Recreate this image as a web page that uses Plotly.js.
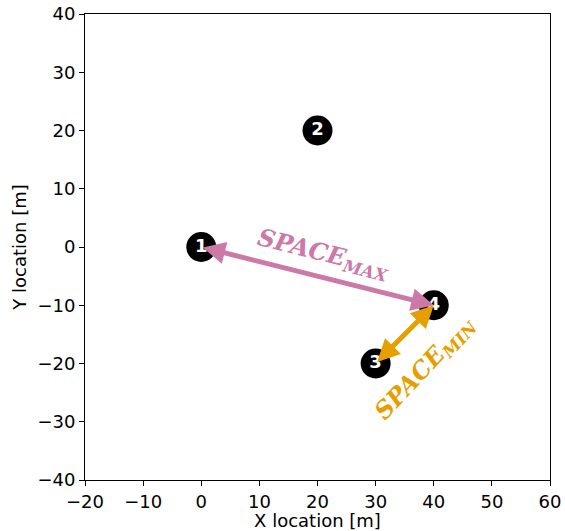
<!DOCTYPE html>
<html>
<head>
<meta charset="utf-8">
<script src="https://cdn.plot.ly/plotly-3.0.1.min.js"></script>
<style>html,body{margin:0;padding:0;background:#fff;}#plot{width:565px;height:531px;}</style>
</head>
<body>
<div id="plot"></div>
<script>
// Node positions (metres) and their labels
const nodeX = [0, 20, 30, 40];
const nodeY = [0, 20, -20, -10];
const nodeLabels = ['1', '2', '3', '4'];

// Spacing links: [from node index, to node index]
const maxLink = [0, 3];
const minLink = [2, 3];

const xTicks = [-20, -10, 0, 10, 20, 30, 40, 50, 60];
const yTicks = [-40, -30, -20, -10, 0, 10, 20, 30, 40];

const PINK = '#CC79A7';
const ORANGE = '#E69F00';
const labelFont = 'DejaVu Serif, Liberation Serif, serif';

const nodes = {
  x: nodeX, y: nodeY, text: nodeLabels,
  mode: 'markers+text',
  type: 'scatter',
  marker: {size: 30, color: '#000'},
  textposition: 'middle center',
  textfont: {family: 'DejaVu Sans', size: 18, color: '#fff'},
  texttemplate: '<b>%{text}</b>',
  hoverinfo: 'skip',
  showlegend: false
};

function link(pair, color) {
  const a = pair[0], b = pair[1];
  return {
    x: nodeX[b], y: nodeY[b], ax: nodeX[a], ay: nodeY[a],
    xref: 'x', yref: 'y', axref: 'x', ayref: 'y',
    showarrow: true, text: '',
    arrowhead: 2, startarrowhead: 2, arrowside: 'end+start',
    arrowsize: 0.9, startarrowsize: 0.9, arrowwidth: 5,
    arrowcolor: color, standoff: 0, startstandoff: 0
  };
}

function label(pair, txt, color, angle, dxData, dyData) {
  const a = pair[0], b = pair[1];
  return {
    x: (nodeX[a] + nodeX[b]) / 2 + dxData,
    y: (nodeY[a] + nodeY[b]) / 2 + dyData,
    xref: 'x', yref: 'y', showarrow: false,
    text: '<b><i>' + txt + '</i></b>',
    textangle: angle,
    font: {family: labelFont, size: 24, color: color}
  };
}

const layout = {
  width: 565, height: 531,
  margin: {l: 85, r: 15, t: 14, b: 51},
  paper_bgcolor: '#fff', plot_bgcolor: '#fff',
  font: {family: 'DejaVu Sans', size: 18, color: '#000'},
  xaxis: {
    range: [-20, 60], tickvals: xTicks, showgrid: false, zeroline: false,
    showline: true, mirror: true, linecolor: '#000', linewidth: 1,
    ticks: 'outside', ticklen: 5, tickcolor: '#000',
    title: {text: 'X location [m]', standoff: 1, font: {size: 18}}
  },
  yaxis: {
    range: [-40, 40], tickvals: yTicks, showgrid: false, zeroline: false,
    showline: true, mirror: true, linecolor: '#000', linewidth: 1,
    ticks: 'outside', ticklen: 5, tickcolor: '#000',
    title: {text: 'Y location [m]', standoff: 6, font: {size: 18}}
  },
  annotations: [
    link(maxLink, PINK),
    link(minLink, ORANGE),
    label(maxLink, 'SPACE<sub>MAX</sub>', PINK, 14, 1.0, 3.8),
    label(minLink, 'SPACE<sub>MIN</sub>', ORANGE, -47, 3.5, -5.8)
  ]
};

Plotly.newPlot('plot', [nodes], layout, {displayModeBar: false, staticPlot: true});
</script>
</body>
</html>
